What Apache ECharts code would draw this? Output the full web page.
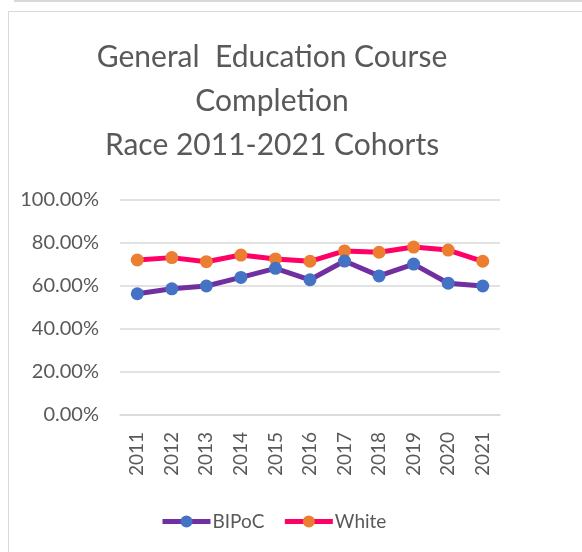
<!DOCTYPE html>
<html>
<head>
<meta charset="utf-8">
<script src="https://cdn.jsdelivr.net/npm/echarts@6/dist/echarts.min.js"></script>
<style>
  html, body { margin: 0; padding: 0; background: #ffffff; }
  .wrap { position: relative; width: 582px; height: 552px; overflow: hidden; }
  .topline { position: absolute; left: 14px; top: 0; width: 580px; height: 2px; background: #d9d9d9; }
  .frame { position: absolute; left: 8px; top: 11px; width: 600px; height: 560px; border: 1px solid #d9d9d9; }
  #chart { position: absolute; left: 0; top: 0; width: 582px; height: 552px; }
</style>
</head>
<body>
<div class="wrap">
  <div class="topline"></div>
  <div class="frame"></div>
  <div id="chart"></div>
</div>
<script>
// cohort years
let years = ["2011", "2012", "2013", "2014", "2015", "2016", "2017", "2018", "2019", "2020", "2021"];
// completion rates (fraction)
let bipocData = [0.564, 0.587, 0.600, 0.640, 0.682, 0.629, 0.716, 0.647, 0.702, 0.613, 0.600];
let whiteData = [0.721, 0.732, 0.713, 0.744, 0.726, 0.715, 0.763, 0.757, 0.781, 0.767, 0.715];
let yTicks = [0, 0.2, 0.4, 0.6, 0.8, 1.0];

let font = "Lato, 'Open Sans', sans-serif";

let option = {
  animation: false,
  title: {
    text: "General  Education Course\nCompletion\nRace 2011-2021 Cohorts",
    left: 267,
    top: 30,
    textAlign: "center",
    textStyle: {
      fontFamily: font,
      fontSize: 30,
      fontWeight: "normal",
      color: "#595959",
      lineHeight: 44,
    },
  },
  legend: {
    left: 155,
    top: 507,
    itemWidth: 48,
    itemHeight: 15,
    itemGap: 18,
    lineStyle: { width: 5 },
    textStyle: { fontFamily: font, fontSize: 19, color: "#595959", padding: [0, 0, 0, -3] },
    data: ["BIPoC", "White"],
  },
  grid: {
    left: 120,
    right: 82,
    top: 200,
    bottom: 137,
  },
  xAxis: {
    type: "category",
    data: years,
    axisLine: { lineStyle: { color: "#d9d9d9", width: 1.5 } },
    axisTick: { show: false },
    axisLabel: {
      rotate: 90,
      interval: 0,
      margin: 17,
      fontFamily: font,
      fontSize: 19,
      color: "#595959",
    },
  },
  yAxis: {
    type: "value",
    min: 0,
    max: 1,
    interval: 0.2,
    axisLine: { show: false },
    axisTick: { show: false },
    splitLine: { lineStyle: { color: "#d9d9d9", width: 1.5 } },
    axisLabel: {
      margin: 21,
      fontFamily: font,
      fontSize: 20,
      color: "#595959",
      formatter: (v) => (v * 100).toFixed(2) + "%",
    },
  },
  series: [
    {
      name: "BIPoC",
      type: "line",
      data: bipocData,
      symbol: "circle",
      symbolSize: 13,
      lineStyle: { color: "#7030A0", width: 5 },
      itemStyle: { color: "#4472C4" },
      z: 3,
    },
    {
      name: "White",
      type: "line",
      data: whiteData,
      symbol: "circle",
      symbolSize: 13,
      lineStyle: { color: "#FF0066", width: 5 },
      itemStyle: { color: "#ED7D31" },
      z: 2,
    },
  ],
};

let myChart = echarts.init(document.getElementById("chart"));
myChart.setOption(option);
</script>
</body>
</html>
